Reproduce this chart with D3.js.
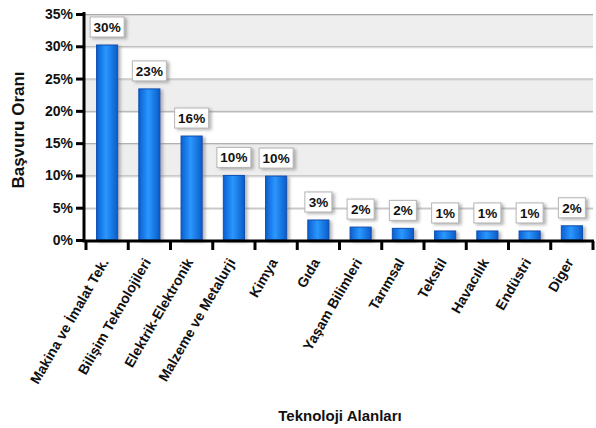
<!DOCTYPE html>
<html>
<head>
<meta charset="utf-8">
<script src="https://cdn.jsdelivr.net/npm/d3@7/dist/d3.min.js"></script>
<style>
  html, body { margin: 0; padding: 0; background: #fff; }
  svg { display: block; font-family: "Liberation Sans", Arial, sans-serif; }
</style>
</head>
<body>
<svg id="chart" width="596" height="428"></svg>
<script>
// Technology areas and their share of applications (%)
const categories = [
  "Makina ve İmalat Tek.", "Bilişim Teknolojileri", "Elektrik-Elektronik",
  "Malzeme ve Metalurji", "Kimya", "Gıda", "Yaşam Bilimleri", "Tarımsal",
  "Tekstil", "Havacılık", "Endüstri", "Diger"
];
const shares = [30.2, 23.4, 16.1, 10.0, 9.9, 3.1, 2.0, 1.8, 1.4, 1.4, 1.4, 2.2];
const yTicks = [0, 5, 10, 15, 20, 25, 30, 35];
const yTitle = "Başvuru Oranı";
const xTitle = "Teknoloji Alanları";

const svg = d3.select("#chart");
const plotLeft = 84, plotRight = 593, plotTop = 14, plotBottom = 240;

const x = d3.scaleBand().domain(categories).range([86, plotRight])
  .paddingInner(0.5).paddingOuter(0.25);
const y = d3.scaleLinear().domain([0, 35]).range([plotBottom, plotTop]);

const defs = svg.append("defs");
const grad = defs.append("linearGradient").attr("id", "barGrad")
  .attr("x1", "0").attr("x2", "1").attr("y1", "0").attr("y2", "0");
grad.append("stop").attr("offset", "0%").attr("stop-color", "#0a5fd0");
grad.append("stop").attr("offset", "45%").attr("stop-color", "#2b97ff");
grad.append("stop").attr("offset", "100%").attr("stop-color", "#0a5cc8");

const shadow = defs.append("filter").attr("id", "shadow")
  .attr("x", "-30%").attr("y", "-30%").attr("width", "170%").attr("height", "170%");
shadow.append("feDropShadow").attr("dx", 2.5).attr("dy", 1.5)
  .attr("stdDeviation", 1.6).attr("flood-color", "#777").attr("flood-opacity", 0.55);

// alternating background bands
const bands = [[30, 35], [20, 25], [10, 15]];
svg.append("g").selectAll("rect").data(bands).join("rect")
  .attr("x", plotLeft).attr("width", plotRight - plotLeft)
  .attr("y", d => y(d[1])).attr("height", d => y(d[0]) - y(d[1]))
  .attr("fill", "#eeeeee");

// gridlines
const grid = svg.append("g");
yTicks.filter(v => v > 0).forEach(v => {
  grid.append("line").attr("x1", plotLeft).attr("x2", plotRight)
    .attr("y1", y(v) + 0.5).attr("y2", y(v) + 0.5)
    .attr("stroke", "#a8a8a8").attr("stroke-width", 1);
  grid.append("line").attr("x1", plotLeft).attr("x2", plotRight)
    .attr("y1", y(v) + 1.5).attr("y2", y(v) + 1.5)
    .attr("stroke", "#d8d8d8").attr("stroke-width", 1);
});

// bars
svg.append("g").selectAll("rect").data(shares).join("rect")
  .attr("x", (d, i) => x(categories[i]))
  .attr("width", x.bandwidth())
  .attr("y", d => y(d))
  .attr("height", d => y(0) - y(d))
  .attr("fill", "url(#barGrad)")
  .attr("stroke", "#0a4fb0").attr("stroke-width", 1)
  .attr("filter", "url(#shadow)");

// value labels
const lab = svg.append("g").selectAll("g").data(shares).join("g")
  .attr("transform", (d, i) => `translate(${x(categories[i]) + x.bandwidth() / 2},${y(d) - 8})`);
lab.append("rect")
  .attr("x", d => Math.round(d) >= 10 ? -17 : -13.5)
  .attr("width", d => Math.round(d) >= 10 ? 34 : 27)
  .attr("y", -20).attr("height", 20)
  .attr("fill", "#fff").attr("stroke", "#b5b5b5").attr("stroke-width", 1)
  .attr("filter", "url(#shadow)");
lab.append("text")
  .attr("text-anchor", "middle").attr("y", -5)
  .attr("font-size", 13.5).attr("font-weight", "bold").attr("fill", "#111")
  .text(d => Math.round(d) + "%");

// y axis
const yAxis = d3.axisLeft(y).tickValues(yTicks).tickFormat(d => d + "%")
  .tickSize(8).tickPadding(3);
const gy = svg.append("g").attr("transform", `translate(${plotLeft},0)`).call(yAxis);
gy.select(".domain").attr("stroke", "#000").attr("stroke-width", 3)
  .attr("d", `M0,${plotTop - 2}V${plotBottom + 2}`);
gy.selectAll(".tick line").attr("stroke", "#000").attr("stroke-width", 3);
gy.selectAll(".tick text").attr("font-size", 14).attr("font-weight", "bold")
  .attr("fill", "#111").attr("font-family", "'Liberation Sans', Arial, sans-serif");

// x axis with ticks on band boundaries
const gx = svg.append("g").attr("transform", `translate(0,${plotBottom + 1})`);
gx.append("line").attr("x1", plotLeft - 1.5).attr("x2", plotRight + 1)
  .attr("stroke", "#000").attr("stroke-width", 3);
const gap = (x.step() - x.bandwidth()) / 2;
const boundaries = categories.map(c => x(c) - gap).concat([x(categories[categories.length - 1]) + x.bandwidth() + gap]);
gx.selectAll("line.tk").data(boundaries).join("line").attr("class", "tk")
  .attr("x1", d => d).attr("x2", d => d).attr("y1", 0).attr("y2", 9)
  .attr("stroke", "#000").attr("stroke-width", 3);

// category labels
svg.append("g").selectAll("text").data(categories).join("text")
  .attr("transform", d => `translate(${x(d) + x.bandwidth() / 2 + 2},${plotBottom + 22}) rotate(-60)`)
  .attr("text-anchor", "end")
  .attr("font-size", 14).attr("font-weight", "bold").attr("fill", "#111")
  .text(d => d);

// axis titles
svg.append("text")
  .attr("transform", `translate(24,130) rotate(-90)`)
  .attr("text-anchor", "middle").attr("font-size", 17).attr("font-weight", "bold")
  .attr("fill", "#111").text(yTitle);
svg.append("text")
  .attr("x", 340).attr("y", 421)
  .attr("text-anchor", "middle").attr("font-size", 15).attr("font-weight", "bold")
  .attr("fill", "#111").text(xTitle);
</script>
</body>
</html>
